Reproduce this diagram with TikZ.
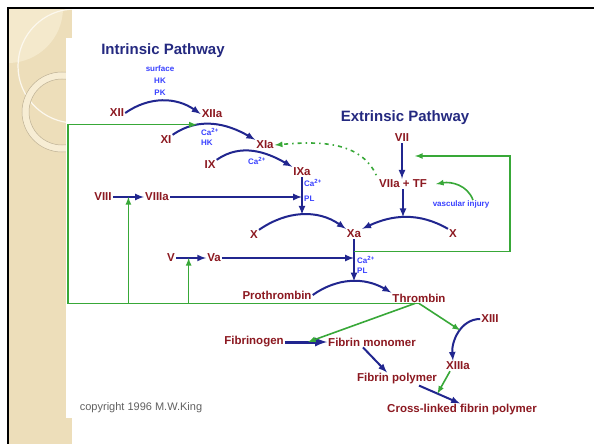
\documentclass[tikz,border=0pt]{standalone}
\usepackage{fontspec}
\setmainfont{Liberation Sans}
\usetikzlibrary{arrows,calc}
\definecolor{LabelClr}{rgb}{0.55,0.1,0.13}
\definecolor{ArrowClr}{rgb}{0.13,0.15,0.56}
\definecolor{TitleClr}{rgb}{0.14,0.16,0.5}
\definecolor{CofClr}{rgb}{0.22,0.25,1}
\definecolor{LinkClr}{rgb}{0.22,0.66,0.22}
\definecolor{StripClr}{rgb}{0.93,0.87,0.73}
\definecolor{RingClr}{rgb}{0.97,0.93,0.83}

\begin{document}
\begin{tikzpicture}[x=1pt,y=-1pt,
  lbl/.style={text=LabelClr,inner sep=1pt,font=\bfseries\fontsize{11.5}{13}\selectfont},
  cof/.style={text=CofClr,inner sep=0pt,align=left,font=\bfseries\fontsize{8}{10}\selectfont},
  hd/.style={text=TitleClr,font=\bfseries\fontsize{15}{17}\selectfont},
  blu/.style={draw=ArrowClr,line width=2pt,-latex},
  grn/.style={draw=LinkClr,line width=1.6pt,-latex}]

\useasboundingbox (0,0) rectangle (594,444);
\fill[white] (0,0) rectangle (594,444);
\fill[StripClr] (8,8) rectangle (72,444);
\begin{scope}
\clip (8,8) rectangle (72,444);
\fill[RingClr!70!StripClr] (8,8) circle (55);
\draw[RingClr!40!white,line width=1.2pt] (75,66) circle (57);
\fill[RingClr,even odd rule] (62,112) circle (40) (62,112) circle (33);
\draw[StripClr!80!black,line width=.5pt] (62,112) circle (40) (62,112) circle (33);
\end{scope}
\fill[white] (66,38) rectangle (594,418);
\draw[black,line width=2.2pt] (8,444) -- (8,8) -- (594,8);

\node[hd] (intr) at (163,51) {Intrinsic Pathway};
\node[hd] (extr) at (405,118) {Extrinsic Pathway};

\node[lbl] (xii) at (117,113) {XII};
\node[lbl] (xiia) at (212,114) {XIIa};
\node[lbl] (xi) at (166,140) {XI};
\node[lbl] (xia) at (265,145) {XIa};
\node[lbl] (ix) at (210,165) {IX};
\node[lbl] (ixa) at (302,172) {IXa};
\node[lbl] (viii) at (103,197) {VIII};
\node[lbl] (viiia) at (157,197) {VIIIa};
\node[lbl] (xl) at (254,235) {X};
\node[lbl] (xa) at (354,234) {Xa};
\node[lbl] (xr) at (453,234) {X};
\node[lbl] (vii) at (402,138) {VII};
\node[lbl] (viiatf) at (403,184) {VIIa + TF};
\node[lbl] (v) at (171,258) {V};
\node[lbl] (va) at (214,258) {Va};
\node[lbl] (prothr) at (277,295) {Prothrombin};
\node[lbl] (thromb) at (419,298) {Thrombin};
\node[lbl] (xiii) at (490,319) {XIII};
\node[lbl] (fibgen) at (254,342) {Fibrinogen};
\node[lbl] (fibmon) at (372,342) {Fibrin monomer};
\node[lbl] (fibpol) at (397,379) {Fibrin polymer};
\node[lbl] (xiiia) at (458,366) {XIIIa};
\node[lbl] (xlinked) at (462,410) {Cross-linked fibrin polymer};

\node[cof,align=center,font=\bfseries\fontsize{8}{12}\selectfont] (surf) at (160,81) {surface\\HK\\PK};
\node[cof] (cofxi) at (210,137) {Ca\textsuperscript{2+}\\HK};
\node[cof] (cofix) at (257,161) {Ca\textsuperscript{2+}};
\node[cof] (cofixa) at (313,190) {Ca\textsuperscript{2+}\\[5pt]PL};
\node[cof] (cofxa) at (366,265) {Ca\textsuperscript{2+}\\PL};
\node[cof] (vasc) at (461,204) {vascular injury};
\node[text=black!62,font=\fontsize{11}{13}\selectfont] (copy) at (141,408) {copyright 1996 M.W.King};

\draw[blu] (xii.east) to[out=35,in=145] (xiia.west);
\draw[blu] (xi.north east) to[out=35,in=150] coordinate[pos=.3] (xitop) (xia.north west);
\draw[blu] (ix.north east) to[out=35,in=150] (ixa.north west);
\draw[blu] (xl.north east) to[out=35,in=145] coordinate[pos=.5] (xltop) (xa.north west);
\draw[blu] (xr.north west) to[out=150,in=25] coordinate[pos=.5] (xrtop) (xa.north east);
\draw[blu] (prothr.east) to[out=35,in=150] coordinate[pos=.5] (prtop) (thromb.north west);
\draw[blu] (xiii.west) to[out=180,in=95] coordinate[pos=.45] (xiiibar) ([xshift=-5]xiiia.north);

\draw[blu] (ixa.south) -- (ixa.south |- xltop);
\draw[blu] (viiatf.south) -- (viiatf.south |- xrtop);
\draw[blu] (vii.south) -- coordinate[pos=.36] (viibar) (vii.south |- viiatf.north);
\draw[blu] (xa.south) -- coordinate[pos=.29] (xagrn) (xa.south |- prtop);
\draw[blu] (viii.east) -- coordinate[pos=.5] (viiibar) (viiia.west);
\draw[blu] (viiia.east) -- (ixa.south |- viiia.east);
\draw[blu] (v.east) -- coordinate[pos=.42] (vbar) (va.west);
\draw[blu] (va.east) -- (xa.south |- va.east);
\draw[blu,line width=3pt] (fibgen.east) -- coordinate[pos=.55] (fgbar) (fibmon.west);
\draw[blu] ([xshift=-9]fibmon.south) -- ([xshift=-10]fibpol.north);
\draw[blu] ([xshift=22]fibpol.south) -- coordinate[pos=.45] (fpbar) ([xshift=-2]xlinked.north);

\coordinate (loopx) at (68,0);
\coordinate (extx) at (510,0);
\draw[grn] (thromb.south) -- (thromb.south -| loopx) |- (xitop);
\draw[grn] (viiibar |- thromb.south) -- (viiibar);
\draw[grn] (vbar |- thromb.south) -- (vbar);
\draw[grn] ([xshift=-4]thromb.south) -- (fgbar);
\draw[grn] (thromb.south) -- (xiiibar);
\draw[grn] ([xshift=-8]xiiia.south) -- (fpbar);
\draw[grn,shorten >=13pt] (xagrn) -| (viibar -| extx) -- (viibar);
\draw[grn,dash pattern=on 1.5pt off 4pt on 4pt off 4pt,shorten <=4pt] (viiatf.north west) to[out=115,in=5] (xia.east);
\draw[grn] ([xshift=12]vasc.north) to[out=110,in=10] ([xshift=8]viiatf.east);

\end{tikzpicture}
\end{document}
